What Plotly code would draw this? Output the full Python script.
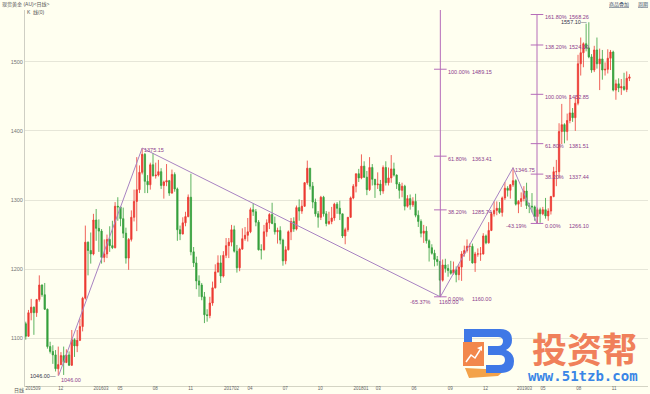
import pandas as pd
import plotly.graph_objects as go

# ---------------- data (weekly candles) ----------------
first_week = "2015-09-09"
opens = [1121,1103,1137,1145,1137,1156,1177,1163,1142,1088,1081,1076,1056,1062,1075,1065,
         1076,1061,1098,1089,1097,1117,1158,1239,1227,1222,1271,1259,1255,1217,1222,1243,1234,1231,1291,1290,1273,1252,1216,1243,1275,1298,1315,1340,1366,1327,1322,1351,1335,1336,1341,1321,1326,1328,1310,1337,1316,1257,1251,1267,1276,1304,1225,1209,1183,1177,1160,1134,1133,
         1151,1173,1196,1209,1190,1220,1234,1239,1257,1226,1202,1229,1244,1249,1254,1286,1283,1268,1228,1228,1254,1267,1279,1266,1254,1256,1242,1212,1228,1254,1269,1258,1289,1284,1291,1325,1346,1320,1297,1280,1275,1304,1280,1266,1269,1274,1294,1288,1280,1248,1257,1275,
         1303,1320,1338,1332,1349,1333,1315,1347,1330,1322,1323,1313,1347,1325,1332,1345,1336,1323,1314,1320,1291,1302,1293,1298,1278,1269,1252,1255,1241,1231,1223,1214,1211,1184,1206,1201,1198,1194,1199,1192,1203,1222,1227,1233,1233,1209,1222,1222,1222,1248,1238,1256,
         1280,1285,1288,1282,1303,1317,1314,1322,1328,1294,1298,1302,1313,1292,1291,1290,1276,1286,1280,1286,1277,1284,1305,1341,1341,1399,1409,1399,1415,1426,1419,1440,1497,1513,1526,1520,1507,1488,1517,1497,1504,1488,1489,1505,1514,1459,1468,1462,1464,1460,1476]
highs = [1124,1141,1157,1146,1157,1191,1178,1180,1143,1095,1090,1083,1088,1080,1088,1084,
         1081,1112,1100,1112,1128,1160,1263,1240,1253,1280,1287,1272,1258,1243,1250,1262,1270,1297,1304,1290,1289,1260,1245,1285,1315,1362,1350,1375.15,1368,1336,1354,1368,1354,1358,1346,1328,1352,1329,1344,1340,1318,1263,1275,1283,1308,1338,1232,1218,1191,1180,1167,1142,1160,
         1182,1207,1220,1220,1226,1245,1245,1264,1263,1235,1231,1259,1261,1274,1289,1295,1287,1271,1236,1264,1272,1281,1296,1276,1260,1262,1244,1233,1256,1274,1275,1292,1301,1300,1326,1357,1346,1326,1302,1284,1306,1306,1284,1283,1290,1296,1297,1299,1280,1260,1275,1305,
         1323,1338,1345,1366,1356,1342,1362,1352,1330,1340,1329,1350,1356,1347,1365,1354,1337,1326,1325,1322,1307,1308,1304,1309,1285,1272,1264,1262,1243,1236,1228,1219,1212,1214,1215,1207,1212,1211,1204,1207,1226,1234,1243,1237,1237,1225,1230,1232,1252,1250,1268,1283,
         1298,1298,1297,1305,1326,1320,1323,1346.75,1330,1300,1311,1320,1325,1296,1310,1292,1289,1289,1290,1303,1288,1306,1348,1358,1411,1439,1411,1425,1452,1433,1449,1510,1535,1528,1555,1557.10,1511,1523,1535,1519,1517,1499,1518,1517,1516,1474,1476,1475,1484,1486,1482]
lows = [1098,1102,1126,1105,1131,1153,1160,1141,1085,1078,1063,1052,1046.00,1061,1047,1064,
        1060,1060,1073,1080,1096,1110,1156,1191,1208,1220,1241,1225,1208,1210,1216,1225,1229,1230,1270,1262,1245,1208,1199,1240,1269,1255,1310,1337,1310,1310,1315,1334,1331,1334,1316,1302,1320,1306,1309,1312,1241,1242,1250,1262,1275,1220,1203,1171,1160,1155,1122,1124,1129,
        1147,1172,1195,1180,1188,1216,1216,1233,1224,1195,1197,1228,1241,1240,1252,1277,1262,1227,1214,1227,1247,1258,1265,1250,1237,1236,1205,1207,1227,1242,1254,1256,1270,1280,1290,1322,1315,1288,1276,1260,1271,1276,1262,1264,1265,1270,1280,1271,1245,1236,1254,1274,
        1301,1311,1326,1330,1332,1307,1313,1321,1303,1316,1307,1309,1321,1321,1325,1334,1316,1302,1304,1285,1289,1286,1290,1275,1261,1246,1238,1237,1211,1221,1204,1205,1160,1182,1195,1189,1192,1192,1181,1184,1183,1218,1224,1212,1208,1196,1218,1212,1221,1236,1237,1255,
        1276,1278,1280,1276,1300,1305,1302,1319,1292,1281,1290,1298,1287,1281,1282,1270,1266.10,1267,1278,1273,1270,1279,1304,1320,1331,1381,1382,1386,1411,1413,1400,1437,1480,1492,1515,1505,1484,1485,1490,1459,1474,1480,1483,1488,1457,1445,1456,1452,1458,1456,1472]
closes = [1103,1137,1145,1137,1156,1177,1163,1142,1088,1081,1076,1056,1062,1075,1065,1076,
          1061,1098,1089,1097,1117,1158,1239,1227,1222,1271,1259,1255,1217,1222,1243,1234,1231,1291,1290,1273,1252,1216,1243,1275,1298,1315,1340,1366,1327,1322,1351,1335,1336,1341,1321,1326,1328,1310,1337,1316,1257,1251,1267,1276,1304,1225,1209,1183,1177,1160,1134,1133,1151,
          1173,1196,1209,1190,1220,1234,1239,1257,1226,1202,1229,1244,1249,1254,1286,1283,1268,1228,1228,1254,1267,1279,1266,1254,1256,1242,1212,1228,1254,1269,1258,1289,1284,1291,1325,1346,1320,1297,1280,1275,1304,1280,1266,1269,1274,1294,1288,1280,1248,1257,1275,1303,
          1320,1338,1332,1349,1333,1315,1347,1330,1322,1323,1313,1347,1325,1332,1345,1336,1323,1314,1320,1291,1302,1293,1298,1278,1269,1252,1255,1241,1231,1223,1214,1211,1184,1206,1201,1198,1194,1199,1192,1203,1222,1227,1233,1233,1209,1222,1222,1222,1248,1238,1256,1280,
          1285,1288,1282,1303,1317,1314,1322,1328,1294,1298,1302,1313,1292,1291,1290,1276,1286,1280,1286,1277,1284,1305,1341,1341,1399,1409,1399,1415,1426,1419,1440,1497,1513,1526,1520,1507,1488,1517,1497,1504,1488,1489,1505,1514,1459,1468,1462,1464,1460,1476,1478]
assert len(opens) == len(highs) == len(lows) == len(closes) == 224
dates = pd.date_range(first_week, periods=len(closes), freq="7D")

y_ticks = [1100, 1200, 1300, 1400, 1500]
x_tick_dates = ["2015-09-07", "2015-12-01", "2016-03-01", "2016-05-02", "2016-08-01", "2016-11-01",
                "2017-02-01", "2017-04-03", "2017-07-03", "2017-10-02", "2018-01-02", "2018-03-01",
                "2018-06-01", "2018-09-03", "2018-12-03", "2019-03-01", "2019-05-01", "2019-08-01",
                "2019-11-01"]
x_tick_text = ["201509", "12", "201603", "05", "08", "11", "201702", "04", "07", "10", "201801",
               "03", "06", "09", "12", "201903", "05", "08", "11"]

swing_dates = ["2015-12-03", "2016-07-06", "2018-08-16", "2019-02-20", "2019-04-23"]
swing_prices = [1046.00, 1375.15, 1160.00, 1346.75, 1266.10]

fib_pct_text = ["0.00%", "38.20%", "61.80%", "100.00%", "138.20%", "161.80%"]
fib1_date = "2018-08-16"
fib1_levels = [1160.00, 1285.74, 1363.41, 1489.15, 1614.88, 1692.56]
fib2_date = "2019-04-23"
fib2_levels = [1266.10, 1337.44, 1381.51, 1452.85, 1524.19, 1568.26]

# ---------------- styling ----------------
BG = "#fffff0"
UP = "#ec3a32"
DOWN = "#35a03c"
FIB_LINE = "#a883c2"
FIB_VLINE = "#b56cb8"
FIB_TEXT = "#8c3c8c"
Y_RANGE = [1031.0, 1574.8]
X_RANGE = ["2015-09-07", "2020-02-04"]
L, T, W, H = 25, 10, 623, 376
FONT = "Liberation Sans, Noto Sans CJK SC, sans-serif"


def pp(x, y):
    return (x - L) / W, (T + H - y) / H


def path(cmds, close=True):
    out = []
    for c, pts in cmds:
        s = c
        for (x, y) in pts:
            a, b = pp(x, y)
            s += f" {a:.5f},{b:.5f}"
        out.append(s)
    return " ".join(out) + (" Z" if close else "")


fig = go.Figure()
fig.add_trace(go.Candlestick(
    x=dates, open=opens, high=highs, low=lows, close=closes,
    increasing=dict(line=dict(color=UP, width=0.8), fillcolor=UP),
    decreasing=dict(line=dict(color=DOWN, width=0.8), fillcolor=DOWN),
    whiskerwidth=0, hoverinfo="skip"))

fig.add_trace(go.Scatter(x=swing_dates, y=swing_prices, mode="lines",
                         line=dict(color=FIB_LINE, width=1), hoverinfo="skip"))

for d, lv in [(fib1_date, fib1_levels), (fib2_date, fib2_levels)]:
    fig.add_trace(go.Scatter(x=[d, d], y=[lv[0], lv[-1]], mode="lines",
                             line=dict(color=FIB_VLINE, width=1), hoverinfo="skip"))
    fig.add_trace(go.Scatter(x=[d] * len(lv), y=lv, mode="markers",
                             marker=dict(symbol="line-ew", size=9,
                                         line=dict(width=1, color=FIB_VLINE)),
                             hoverinfo="skip"))

ann = []
small = dict(family=FONT, size=5.5, color=FIB_TEXT)
for d, lv in [(fib1_date, fib1_levels), (fib2_date, fib2_levels)]:
    for pct, v in zip(fib_pct_text, lv):
        if v > Y_RANGE[1]:
            continue
        ann.append(dict(x=d, y=v, text=pct, xanchor="left", yanchor="middle", xshift=6,
                        yshift=-2.5, showarrow=False, font=small))
        ann.append(dict(x=d, y=v, text=f"{v:.2f}", xanchor="left", yanchor="middle",
                        xshift=30, yshift=-2.5, showarrow=False, font=small))

# swing point labels
ann.append(dict(x=swing_dates[0], y=swing_prices[0], text=f"{swing_prices[0]:.2f}", xanchor="left",
                yanchor="middle", yshift=-4, showarrow=False, font=small))
ann.append(dict(x=swing_dates[1], y=swing_prices[1], text=f"{swing_prices[1]:.2f}", xanchor="left",
                yanchor="middle", yshift=-2, showarrow=False, font=small))
ann.append(dict(x=swing_dates[2], y=swing_prices[2], text=f"{swing_prices[2]:.2f}", xanchor="left",
                yanchor="middle", yshift=-5, xshift=-3, showarrow=False, font=small))
ann.append(dict(x=swing_dates[2], y=swing_prices[2], text="-65.37%", xanchor="right",
                yanchor="middle", yshift=-5, xshift=-7, showarrow=False, font=small))
ann.append(dict(x=swing_dates[3], y=swing_prices[3], text=f"{swing_prices[3]:.2f}", xanchor="left",
                yanchor="middle", yshift=-2, showarrow=False, font=small))
ann.append(dict(x=swing_dates[4], y=swing_prices[4], text="-43.19%", xanchor="right",
                yanchor="middle", yshift=-3, xshift=-8, showarrow=False, font=small))

# high / low markers
i_lo = lows.index(min(lows))
i_hi = highs.index(max(highs))
mk = dict(family=FONT, size=5.5, color="#33334a")
ann.append(dict(x=dates[i_lo], y=lows[i_lo], text=f"{lows[i_lo]:.2f}—", xanchor="right",
                yanchor="middle", showarrow=False, font=mk))
ann.append(dict(x=dates[i_hi], y=highs[i_hi], text=f"{highs[i_hi]:.2f}—", xanchor="right",
                yanchor="middle", showarrow=False, font=mk))

# header texts
hdr = dict(family=FONT, size=5, color="#555555")
ann.append(dict(xref="paper", yref="paper", x=pp(0, 0)[0], y=pp(0, 4)[1],
                text="现货黄金 (AU)&lt;日线&gt;", xanchor="left", yanchor="middle",
                showarrow=False, font=hdr))
ann.append(dict(xref="paper", yref="paper", x=pp(25, 0)[0], y=pp(0, 12)[1],
                text="K  线(0)", xanchor="left", yanchor="middle", showarrow=False, font=hdr))
lnk = dict(family=FONT, size=5, color="#3a4a6a", lineposition="under")
ann.append(dict(xref="paper", yref="paper", x=pp(607, 0)[0], y=pp(0, 4)[1], text="商品叠加",
                xanchor="left", yanchor="middle", showarrow=False, font=lnk))
ann.append(dict(xref="paper", yref="paper", x=pp(636, 0)[0], y=pp(0, 4)[1], text="周期",
                xanchor="left", yanchor="middle", showarrow=False, font=lnk))
ann.append(dict(xref="paper", yref="paper", x=pp(12, 0)[0], y=pp(0, 390)[1], text="日线",
                xanchor="left", yanchor="middle", showarrow=False, font=hdr))

# watermark
ann.append(dict(xref="paper", yref="paper", x=pp(584, 0)[0], y=pp(0, 347)[1], text="<b>投资帮</b>",
                xanchor="center", yanchor="middle", showarrow=False,
                font=dict(family="Noto Sans CJK SC", size=35, color="#f0805a")))
ann.append(dict(xref="paper", yref="paper", x=pp(583, 0)[0], y=pp(0, 376)[1], text="<b>www.51tzb.com</b>",
                xanchor="center", yanchor="middle", showarrow=False,
                font=dict(family="DejaVu Sans Mono", size=14, color="#3a86e6")))

shapes = []
shapes.append(dict(type="path", xref="paper", yref="paper", line=dict(width=0), fillcolor="#f3a24a",
                   path=path([("M", [(465, 368)]), ("L", [(505, 370)]), ("L", [(498, 376)]),
                              ("L", [(469, 378)])])))
shapes.append(dict(type="path", xref="paper", yref="paper", line=dict(width=0), fillcolor="#3f78e6",
                   path=path([("M", [(464, 329)]), ("L", [(500, 329)]), ("Q", [(512, 329), (512, 340)]),
                              ("Q", [(512, 347), (506, 350)]), ("Q", [(514, 353), (514, 361)]),
                              ("Q", [(514, 373), (501, 373)]), ("L", [(486, 373)]), ("L", [(486, 365)]),
                              ("L", [(499, 365)]), ("Q", [(505, 365), (505, 360)]),
                              ("Q", [(505, 355), (499, 355)]), ("L", [(488, 355)]), ("L", [(488, 346)]),
                              ("L", [(498, 346)]), ("Q", [(503, 346), (503, 341)]),
                              ("Q", [(503, 337), (498, 337)]), ("L", [(472, 337)]), ("L", [(472, 342)]),
                              ("L", [(464, 342)])])))
x0, y0 = pp(463, 366)
x1, y1 = pp(484, 342)
shapes.append(dict(type="rect", xref="paper", yref="paper", x0=x0, y0=y0, x1=x1, y1=y1,
                   line=dict(width=0), fillcolor="#f2874c"))
shapes.append(dict(type="path", xref="paper", yref="paper", line=dict(width=1.5, color="white"),
                   path=path([("M", [(466, 362)]), ("L", [(471, 355)]), ("L", [(475, 358)]),
                              ("L", [(480, 350)])], close=False)))
shapes.append(dict(type="path", xref="paper", yref="paper", line=dict(width=0), fillcolor="white",
                   path=path([("M", [(477, 348)]), ("L", [(482, 346)]), ("L", [(482, 351)])])))

fig.update_layout(
    width=650, height=394,
    margin=dict(l=L, r=650 - L - W, t=T, b=394 - T - H, autoexpand=False),
    paper_bgcolor=BG, plot_bgcolor=BG,
    showlegend=False,
    font=dict(family=FONT, size=6, color="#666666"),
    annotations=ann, shapes=shapes,
    xaxis=dict(type="date", range=X_RANGE, rangeslider=dict(visible=False),
               tickvals=x_tick_dates, ticktext=x_tick_text, ticks="",
               ticklabelposition="outside right", ticklabelstandoff=-2, automargin=False,
               tickfont=dict(size=4.5, color="#666666"), showgrid=False,
               showline=True, linecolor="#d4d4c4", linewidth=1, zeroline=False),
    yaxis=dict(range=Y_RANGE, tickvals=y_ticks, ticks="", automargin=False,
               tickfont=dict(size=5.5, color="#777777"),
               showgrid=True, gridcolor="#e6e6d8", gridwidth=1,
               showline=True, linecolor="#cfcfc4", linewidth=1, zeroline=False),
)

fig.write_html("out.html",
               config={"displayModeBar": False, "staticPlot": True},
               post_script="document.body.style.margin='0';document.body.style.padding='0';"
                           "document.body.style.overflow='hidden';"
                           "document.body.style.background='" + BG + "';")
